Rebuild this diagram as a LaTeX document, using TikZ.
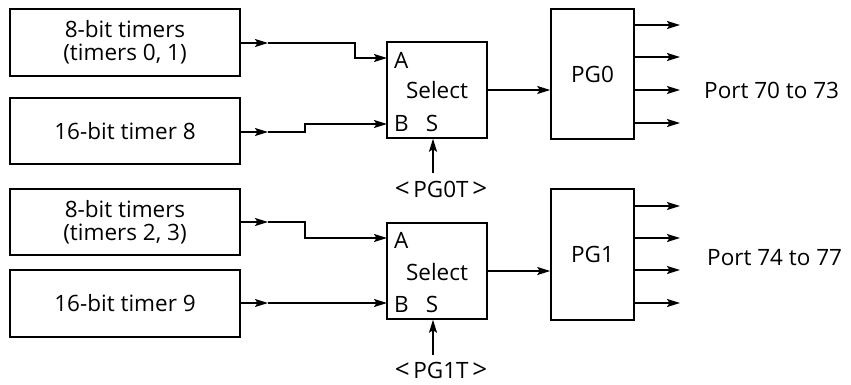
\documentclass[tikz,border=0pt]{standalone}
\usepackage{fontspec}
\setmainfont{Open Sans}
\usetikzlibrary{arrows.meta}
\newcommand{\bigangle}[1]{{\fontsize{26}{26}\selectfont#1}}
\begin{document}
\begin{tikzpicture}[x=1pt,y=-1pt,
  every node/.style={font=\fontsize{22.5}{23}\selectfont},
  box/.style={draw,line width=1.5pt,inner sep=0pt,align=center},
  arr/.style={line width=1.5pt,-{Stealth[length=13pt,width=8pt,inset=2.5pt]}},
  lbl/.style={inner sep=0pt}]
\useasboundingbox (0,0) rectangle (851,385);
% timer boxes
\node[box,minimum width=230pt,minimum height=67pt] (t1) at (125,42.5) {8-bit timers\\(timers 0, 1)};
\node[box,minimum width=230pt,minimum height=66pt] (t2) at (125,131) {16-bit timer 8};
\node[box,minimum width=230pt,minimum height=66pt] (t3) at (125,222) {8-bit timers\\(timers 2, 3)};
\node[box,minimum width=230pt,minimum height=67pt] (t4) at (125,303.5) {16-bit timer 9};
% select boxes
\node[box,minimum width=100pt,minimum height=96pt] (s1) at (437,90) {};
\node[box,minimum width=100pt,minimum height=96pt] (s2) at (437,271) {};
\node[lbl,anchor=west] at (394,60) {A};
\node[lbl] at (437,90) {Select};
\node[lbl,anchor=west] at (394,123) {B};
\node[lbl] (s1s) at (432,123) {S};
\node[lbl,anchor=west] at (394,240) {A};
\node[lbl] at (437,272) {Select};
\node[lbl,anchor=west] at (394,304) {B};
\node[lbl] (s2s) at (432,304) {S};
% PG boxes
\node[box,minimum width=83pt,minimum height=130pt] (p0) at (592.5,74) {PG0};
\node[box,minimum width=83pt,minimum height=131pt] (p1) at (592.5,254.5) {PG1};
\node[lbl,anchor=west] (port0) at (704,90) {Port 70 to 73};
\node[lbl,anchor=west] (port1) at (707,258) {Port 74 to 77};
% control labels
\node[lbl] (c0) at (441,189) {\bigangle{<}\,PG0T\,\bigangle{>}};
\node[lbl] (c1) at (441,370) {\bigangle{<}\,PG1T\,\bigangle{>}};
% coordinates
\coordinate (s1a) at (387,58);
\coordinate (s1b) at (387,124);
\coordinate (s2a) at (387,238);
\coordinate (s2b) at (387,303);
\coordinate (m1) at (268,43);
\coordinate (m2) at (268,132);
\coordinate (m3) at (268,222);
\coordinate (m4) at (268,303);
% connectors
\draw[arr] (t1.east |- m1) -- (m1);
\draw[arr] (m1) -- (355,43) -- (355,58) -- (s1a);
\draw[arr] (t2.east |- m2) -- (m2);
\draw[arr] (m2) -- (305,132) -- (305,124) -- (s1b);
\draw[arr] (t3.east |- m3) -- (m3);
\draw[arr] (m3) -- (305,222) -- (305,238) -- (s2a);
\draw[arr] (t4.east |- m4) -- (m4);
\draw[arr] (m4) -- (s2b);
\draw[arr] (s1.east) -- (p0.west |- s1.east);
\draw[arr] (s2.east) -- (p1.west |- s2.east);
\draw[arr] (433,173) -- (s1.south -| 433,0);
\draw[arr] (433,355) -- (s2.south -| 433,0);
\foreach \y in {25,57,90,123} \draw[arr] (p0.east |- 0,\y) -- (680,\y);
\foreach \y in {206,238,270,303} \draw[arr] (p1.east |- 0,\y) -- (680,\y);
\end{tikzpicture}
\end{document}
